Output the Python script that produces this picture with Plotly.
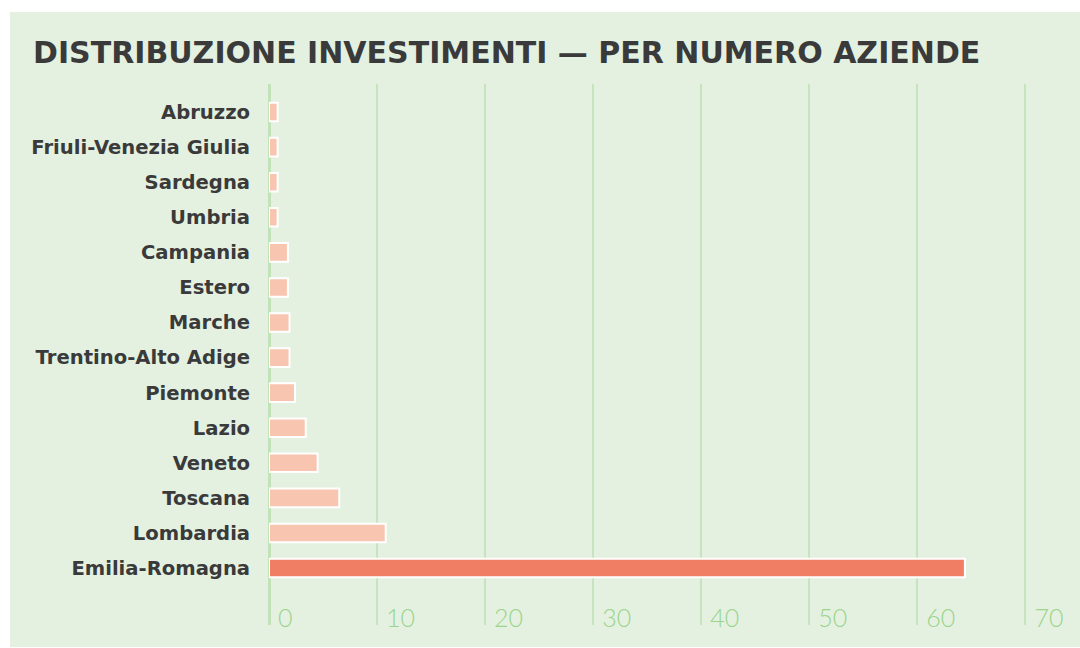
import plotly.graph_objects as go

regions = ["Emilia-Romagna", "Lombardia", "Toscana", "Veneto", "Lazio", "Piemonte",
           "Trentino-Alto Adige", "Marche", "Estero", "Campania", "Umbria", "Sardegna",
           "Friuli-Venezia Giulia", "Abruzzo"]
values = [64.4, 10.8, 6.5, 4.5, 3.4, 2.4, 1.9, 1.9, 1.75, 1.75, 0.8, 0.8, 0.8, 0.8]
x_ticks = [0, 10, 20, 30, 40, 50, 60, 70]

HIGHLIGHT = "#F07E64"
LIGHT = "#F8C5B0"
colors = [HIGHLIGHT if r == "Emilia-Romagna" else LIGHT for r in regions]

W, H = 1080, 648
ml, mr, mt, mb = 269, 6, 84, 23
pw, ph = W - ml - mr, H - mt - mb

fig = go.Figure(go.Bar(
    y=regions, x=values, orientation="h",
    marker=dict(color=colors, line=dict(color="white", width=2)),
    hoverinfo="x+y",
))

fig.update_layout(
    width=W, height=H,
    margin=dict(l=ml, r=mr, t=mt, b=mb),
    paper_bgcolor="white",
    plot_bgcolor="rgba(0,0,0,0)",
    bargap=0.47,
    showlegend=False,
    title=dict(
        text="DISTRIBUZIONE INVESTIMENTI — PER NUMERO AZIENDE",
        x=33 / W, xanchor="left", xref="container",
        y=1 - 52 / H, yanchor="middle", yref="container",
        font=dict(family="DejaVu Sans", size=30, color="#3A3A3A", weight=700),
    ),
    xaxis=dict(
        range=[0, pw / 10.806],
        tickvals=x_ticks,
        ticklabelposition="inside right",
        ticklabelshift=9,
        ticklabelstandoff=-13,
        tickfont=dict(family="Lato", size=25, color="#9BD48A", weight=300),
        showgrid=True, gridcolor="#C6E4BD", gridwidth=2,
        zeroline=True, zerolinecolor="#C2E2B8", zerolinewidth=3,
        showline=False, ticks="",
    ),
    yaxis=dict(
        type="category",
        categoryorder="array", categoryarray=regions,
        range=[-1.624, 13.80],
        showgrid=False, zeroline=False, showline=False,
        ticks="outside", ticklen=14, tickcolor="rgba(0,0,0,0)",
        tickfont=dict(family="DejaVu Sans", size=19.6, color="#3A3A3A", weight=700),
    ),
    shapes=[dict(
        type="rect", xref="paper", yref="paper", layer="below",
        x0=(10 - ml) / pw, x1=(W - ml) / pw,
        y0=(H - mb - 647) / ph, y1=(H - mb - 12) / ph,
        fillcolor="#E4F1E1", line=dict(width=0),
    )],
)

fig.write_html("out.html", config={"displayModeBar": False},
               post_script="document.body.style.margin='0';")
